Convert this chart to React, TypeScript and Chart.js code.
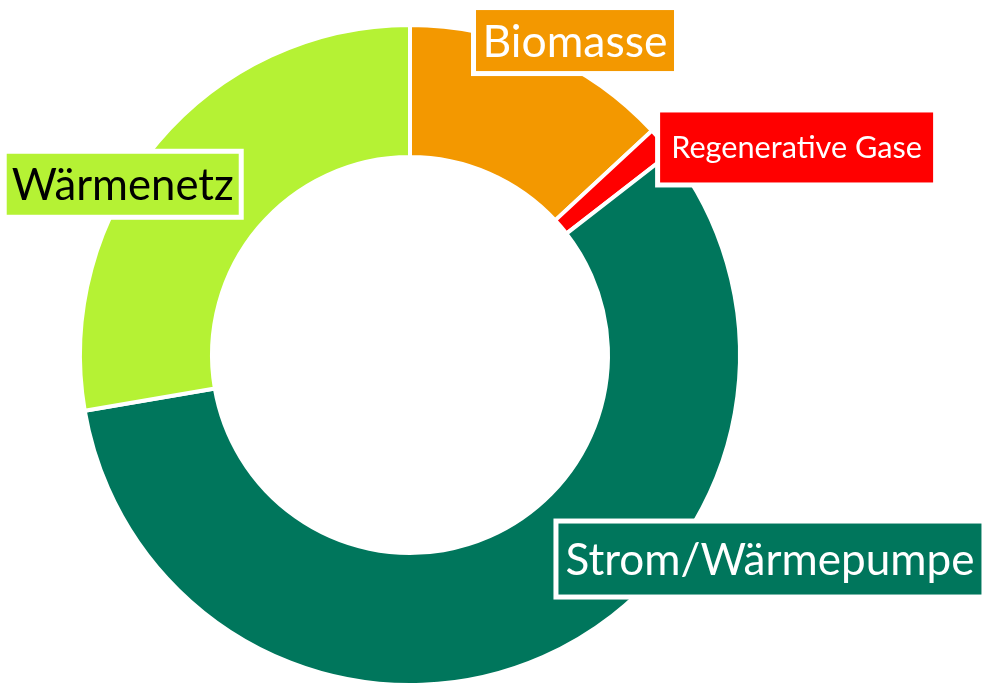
import { useEffect, useRef } from 'react';
import { Chart, registerables } from 'chart.js';

Chart.register(...registerables);

// ---- data ----
const labels = ['Biomasse', 'Regenerative Gase', 'Strom/Wärmepumpe', 'Wärmenetz'];
const values = [13.1, 1.4, 57.8, 27.7];

// ---- styles ----
const colors = ['#F39800', '#FF0000', '#00765C', '#B5F234'];
const textColors = ['#FFFFFF', '#FFFFFF', '#FFFFFF', '#000000'];
const labelOffsetX = [33, 135, 227, -35];
const labelOffsetY = [-12, 6, -98, 42];
const labelTextWidth = [185, 251, 409, 222];
const labelBoxHeight = [61, 70, 71, 61];
const labelPadX = [6.5, 11, 7, 5];
const LABEL_BORDER = 5;
const FONT = 'Lato, "Open Sans", sans-serif';

const boxLabels = {
  id: 'boxLabels',
  afterDatasetsDraw(chart: any) {
    const ctx = chart.ctx as CanvasRenderingContext2D;
    const meta = chart.getDatasetMeta(0);
    meta.data.forEach((arc: any, i: number) => {
      const { x, y, startAngle, endAngle, outerRadius } = arc.getProps(
        ['x', 'y', 'startAngle', 'endAngle', 'outerRadius'],
        true
      );
      const mid = (startAngle + endAngle) / 2;
      const ax = x + Math.cos(mid) * outerRadius;
      const ay = y + Math.sin(mid) * outerRadius;
      const cx = ax + labelOffsetX[i];
      const cy = ay + labelOffsetY[i];
      ctx.save();
      ctx.font = `100px ${FONT}`;
      const w100 = ctx.measureText(labels[i]).width;
      const size = (100 * labelTextWidth[i]) / w100;
      ctx.font = `${size}px ${FONT}`;
      const cap = ctx.measureText('H').actualBoundingBoxAscent;
      const bw = labelTextWidth[i] + 2 * labelPadX[i];
      const bh = labelBoxHeight[i];
      const left = cx - bw / 2;
      const top = cy - bh / 2;
      ctx.fillStyle = '#FFFFFF';
      ctx.fillRect(left - LABEL_BORDER, top - LABEL_BORDER, bw + 2 * LABEL_BORDER, bh + 2 * LABEL_BORDER);
      ctx.fillStyle = colors[i];
      ctx.fillRect(left, top, bw, bh);
      ctx.fillStyle = textColors[i];
      ctx.textAlign = 'center';
      ctx.textBaseline = 'alphabetic';
      ctx.fillText(labels[i], cx, cy + cap / 2);
      ctx.restore();
    });
  },
};

export default function App() {
  const ref = useRef<HTMLCanvasElement | null>(null);
  useEffect(() => {
    if (!ref.current) return;
    const chart = new Chart(ref.current, {
      type: 'doughnut',
      data: {
        labels,
        datasets: [
          {
            data: values,
            backgroundColor: colors,
            borderColor: '#FFFFFF',
            borderWidth: 4,
          },
        ],
      },
      options: {
        animation: false,
        responsive: true,
        maintainAspectRatio: false,
        cutout: '60%',
        layout: { padding: { left: 78, top: 23, right: 243, bottom: 13 } },
        plugins: {
          legend: { display: false },
          tooltip: { enabled: false },
        },
      },
      plugins: [boxLabels],
    });
    return () => chart.destroy();
  }, []);
  return (
    <div
      style={{
        position: 'fixed',
        left: 0,
        top: 0,
        width: 985,
        height: 683,
        overflow: 'hidden',
        background: '#FFFFFF',
      }}
    >
      <div style={{ position: 'absolute', left: 0, top: 0, width: 985, height: 700 }}>
        <canvas ref={ref} />
      </div>
    </div>
  );
}
